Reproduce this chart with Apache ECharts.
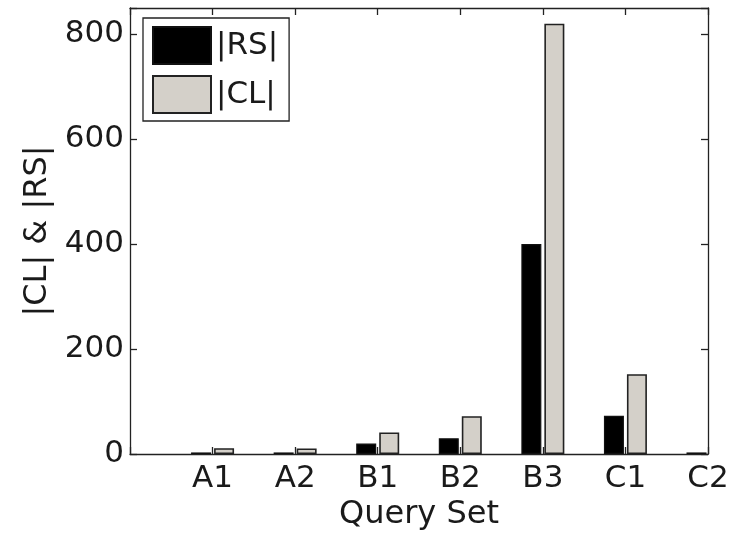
<!DOCTYPE html>
<html>
<head>
<meta charset="utf-8">
<script src="https://cdn.jsdelivr.net/npm/echarts@6/dist/echarts.min.js"></script>
<style>
html,body{margin:0;padding:0;background:#fff;}
#chart{width:733px;height:536px;}
</style>
</head>
<body>
<div id="chart"></div>
<script>
const categories = ['', 'A1', 'A2', 'B1', 'B2', 'B3', 'C1', 'C2'];
const rsValues = [null, 3, 3, 20, 30, 400, 73, 3];
const clValues = [null, 11, 10.5, 41, 72, 820, 152, null];
const yTicks = [0, 200, 400, 600, 800];

const font = 'DejaVu Sans';
const ink = '#1a1a1a';
const chart = echarts.init(document.getElementById('chart'));

const tickStyle = { show: true, inside: true, length: 7, lineStyle: { color: '#222', width: 1.3 } };
const lineStyle = { show: true, onZero: false, lineStyle: { color: '#222', width: 1.3 } };

chart.setOption({
  animation: false,
  backgroundColor: '#fff',
  grid: { left: 130, right: 25, top: 8, bottom: 82, containLabel: false },
  legend: {
    orient: 'vertical',
    left: 143, top: 18,
    padding: [8, 11, 7, 9],
    itemWidth: 58, itemHeight: 37, itemGap: 10,
    backgroundColor: '#fff',
    borderColor: '#222', borderWidth: 1.3,
    icon: 'rect',
    textStyle: { fontFamily: font, fontSize: 31, color: ink },
    data: ['|RS|', '|CL|']
  },
  xAxis: [
    {
      type: 'category', data: categories, boundaryGap: false, position: 'bottom',
      axisLine: lineStyle, axisTick: tickStyle,
      axisLabel: { fontFamily: font, fontSize: 31, color: ink, margin: 9, interval: 0 },
      name: 'Query Set', nameLocation: 'middle', nameGap: 45,
      nameTextStyle: { fontFamily: font, fontSize: 32, color: ink },
      splitLine: { show: false }
    },
    {
      type: 'category', data: categories, boundaryGap: false, position: 'top',
      axisLine: lineStyle, axisTick: tickStyle, axisLabel: { show: false },
      splitLine: { show: false }
    }
  ],
  yAxis: [
    {
      type: 'value', min: 0, max: 850, interval: 200, position: 'left',
      axisLine: lineStyle, axisTick: tickStyle,
      axisLabel: {
        fontFamily: font, fontSize: 31, color: ink, margin: 6,
        formatter: v => (yTicks.indexOf(v) >= 0 ? String(v) : '')
      },
      name: '|CL| & |RS|', nameLocation: 'middle', nameGap: 76, nameRotate: 90,
      nameTextStyle: { fontFamily: font, fontSize: 32, color: ink },
      splitLine: { show: false }
    },
    {
      type: 'value', min: 0, max: 850, interval: 200, position: 'right',
      axisLine: lineStyle, axisTick: tickStyle, axisLabel: { show: false },
      splitLine: { show: false }
    }
  ],
  series: [
    {
      name: '|RS|', type: 'bar', data: rsValues, barWidth: 20, barGap: '15%',
      xAxisIndex: 0, yAxisIndex: 0, clip: true,
      itemStyle: { color: '#000', borderColor: '#111', borderWidth: 1.2 }
    },
    {
      name: '|CL|', type: 'bar', data: clValues, barWidth: 20,
      xAxisIndex: 0, yAxisIndex: 0, clip: true,
      itemStyle: { color: '#d4d0c9', borderColor: '#222', borderWidth: 1.6 }
    }
  ]
});
</script>
</body>
</html>
